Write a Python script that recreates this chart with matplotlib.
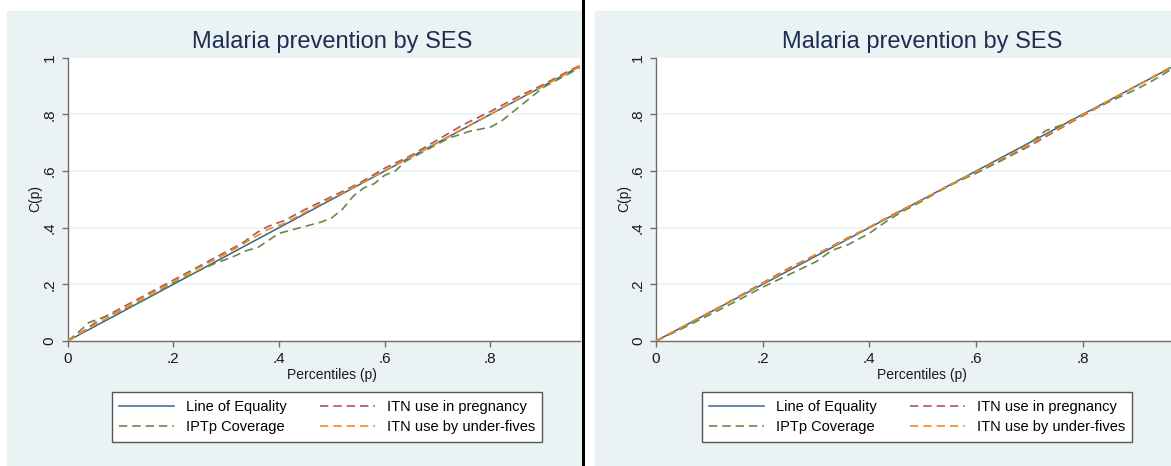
import matplotlib
matplotlib.use("Agg")
import matplotlib.pyplot as plt
from matplotlib.patches import Rectangle
from matplotlib.lines import Line2D

plt.rcParams['font.family'] = ['Liberation Sans', 'DejaVu Sans']

TITLE = "Malaria prevention by SES"
XLABEL = "Percentiles (p)"
YLABEL = "C(p)"
LABELS = ["Line of Equality", "ITN use in pregnancy", "IPTp Coverage", "ITN use by under-fives"]
YTICKS = [0, 0.2, 0.4, 0.6, 0.8, 1.0]
YTICKLABELS = ["0", ".2", ".4", ".6", ".8", "1"]
XTICKS = [0, 0.2, 0.4, 0.6, 0.8]
XTICKLABELS = ["0", ".2", ".4", ".6", ".8"]

# line of equality
eq_p = [0, 1]
eq_c = [0, 1]

# left panel
l_iptp_p = [0, .02, .04, .07, .1, .15, .2, .25, .28, .31, .34, .36, .38, .4, .44, .48, .5, .52,
            .54, .56, .58, .6, .62, .64, .68, .72, .76, .8, .82, .85, .88, .9, .93, .96, 1.0]
l_iptp_c = [0, .03, .065, .085, .105, .15, .205, .25, .275, .295, .32, .33, .355, .38, .40, .42,
            .435, .465, .51, .54, .555, .585, .60, .635, .675, .715, .74, .755, .775, .82, .865,
            .895, .925, .955, 1.0]
l_preg_p = [0, .03, .06, .1, .15, .2, .25, .3, .33, .36, .38, .41, .45, .5, .55, .6, .65, .7,
            .75, .8, .85, .9, .95, 1]
l_preg_c = [0, .035, .075, .115, .165, .215, .265, .315, .345, .385, .405, .425, .465, .51,
            .555, .61, .655, .71, .765, .81, .86, .905, .955, 1]
l_u5_p = [0, .05, .1, .15, .2, .25, .3, .35, .38, .41, .45, .5, .55, .6, .65, .7, .75, .8, .85,
          .9, .95, 1]
l_u5_c = [0, .055, .108, .158, .21, .26, .308, .362, .395, .415, .455, .505, .55, .602, .65,
          .70, .752, .80, .852, .90, .95, 1]

# right panel
r_iptp_p = [0, .05, .1, .15, .2, .25, .28, .3, .33, .36, .4, .43, .46, .5, .55, .6, .65, .68,
            .71, .73, .76, .8, .85, .9, .93, .96, 1]
r_iptp_c = [0, .045, .092, .14, .19, .235, .262, .28, .32, .34, .38, .42, .455, .495, .55, .592,
            .64, .672, .712, .742, .762, .80, .845, .888, .918, .952, 1]
r_preg_p = [0, .05, .1, .15, .2, .25, .3, .35, .4, .45, .5, .55, .6, .65, .7, .75, .8, .85, .9,
            .95, 1]
r_preg_c = [0, .05, .1, .152, .205, .258, .305, .355, .402, .452, .50, .548, .595, .64, .688,
            .742, .795, .848, .90, .95, 1]
r_u5_p = r_preg_p
r_u5_c = [0, .05, .102, .15, .202, .255, .305, .352, .402, .45, .50, .55, .598, .645, .695,
          .745, .798, .85, .90, .952, 1]

BLUE = '#3a6291'
RED = '#b0545a'
GREEN = '#668a45'
ORANGE = '#eb8f1a'
BG = '#eaf2f3'
DASH = (5, 3)

W, H = 1171, 466
fig = plt.figure(figsize=(W / 100, H / 100), dpi=100, facecolor='white')


def px(x0, y0, x1, y1):
    # pixel box (top-left origin) -> figure fraction rect
    return [x0 / W, (H - y1) / H, (x1 - x0) / W, (y1 - y0) / H]


# panel backgrounds and the black divider
fig.patches.append(Rectangle((7 / W, 0), (581 - 7) / W, (H - 11) / H,
                             transform=fig.transFigure, color=BG, zorder=-5))
fig.patches.append(Rectangle((595 / W, 0), (W - 595) / W, (H - 11) / H,
                             transform=fig.transFigure, color=BG, zorder=-5))


def panel(x0, x1, xmax, series, title_cx, leg_cx):
    ax = fig.add_axes(px(x0, 57.7, x1, 341))
    ax.set_zorder(2)
    ax.set_facecolor('white')
    for y in YTICKS[1:-1]:
        ax.axhline(y, color=BG, lw=1.2, zorder=1)
    ax.plot(eq_p, eq_c, color=BLUE, lw=1.1, zorder=3)
    ax.plot(series[0][0], series[0][1], color=RED, lw=1.2, dashes=DASH, zorder=3)
    ax.plot(series[1][0], series[1][1], color=GREEN, lw=1.2, dashes=DASH, zorder=3)
    ax.plot(series[2][0], series[2][1], color=ORANGE, lw=1.2, dashes=DASH, zorder=3)
    ax.set_xlim(0, xmax)
    ax.set_ylim(0, 1)
    for s in ['top', 'right']:
        ax.spines[s].set_visible(False)
    for s in ['left', 'bottom']:
        ax.spines[s].set_color('#6e6e6e')
        ax.spines[s].set_linewidth(1.0)
    ax.set_xticks(XTICKS)
    ax.set_xticklabels(XTICKLABELS)
    ax.set_yticks(YTICKS)
    ax.set_yticklabels(YTICKLABELS, rotation=90, va='center')
    ax.tick_params(direction='out', length=4, width=1, color='#6e6e6e',
                   labelsize=11, labelcolor='#1a1a1a', pad=4)
    fig.text(title_cx / W, (H - 42) / H, TITLE, ha='center', va='center', fontsize=17,
             color='#1e2d52')
    fig.text(title_cx / W, (H - 375) / H, XLABEL, ha='center', va='center', fontsize=10,
             color='#1a1a1a')
    fig.text((x0 - 32) / W, (H - 199) / H, YLABEL, ha='center', va='center', rotation=90,
             fontsize=10, color='#1a1a1a')
    handles = [Line2D([], [], color=BLUE, lw=1.1),
               Line2D([], [], color=GREEN, lw=1.2, dashes=DASH),
               Line2D([], [], color=RED, lw=1.2, dashes=DASH),
               Line2D([], [], color=ORANGE, lw=1.2, dashes=DASH)]
    labels = [LABELS[0], LABELS[2], LABELS[1], LABELS[3]]
    leg = ax.legend(handles, labels, loc='center', ncol=2,
                    bbox_to_anchor=(leg_cx / W, (H - 417) / H),
                    bbox_transform=fig.transFigure, fontsize=10.5, frameon=True,
                    fancybox=False, framealpha=1, edgecolor='#555555',
                    handlelength=3.77, handletextpad=0.82, columnspacing=2.26,
                    labelspacing=0.45, borderpad=0.5)
    leg.get_frame().set_linewidth(1.0)
    return ax


panel(67.6, 580, (580 - 67.6) / 528.5, [(l_preg_p, l_preg_c), (l_iptp_p, l_iptp_c),
                                        (l_u5_p, l_u5_c)], 332, 327)
panel(656, 1171, (1171 - 656) / 533.5, [(r_preg_p, r_preg_c), (r_iptp_p, r_iptp_c),
                                        (r_u5_p, r_u5_c)], 922, 917)

fig.lines.append(Line2D([582.5 / W, 582.5 / W], [0, 1], transform=fig.transFigure,
                        color='black', lw=2.2, zorder=10))

fig.savefig('out.png', dpi=100, facecolor='white')
